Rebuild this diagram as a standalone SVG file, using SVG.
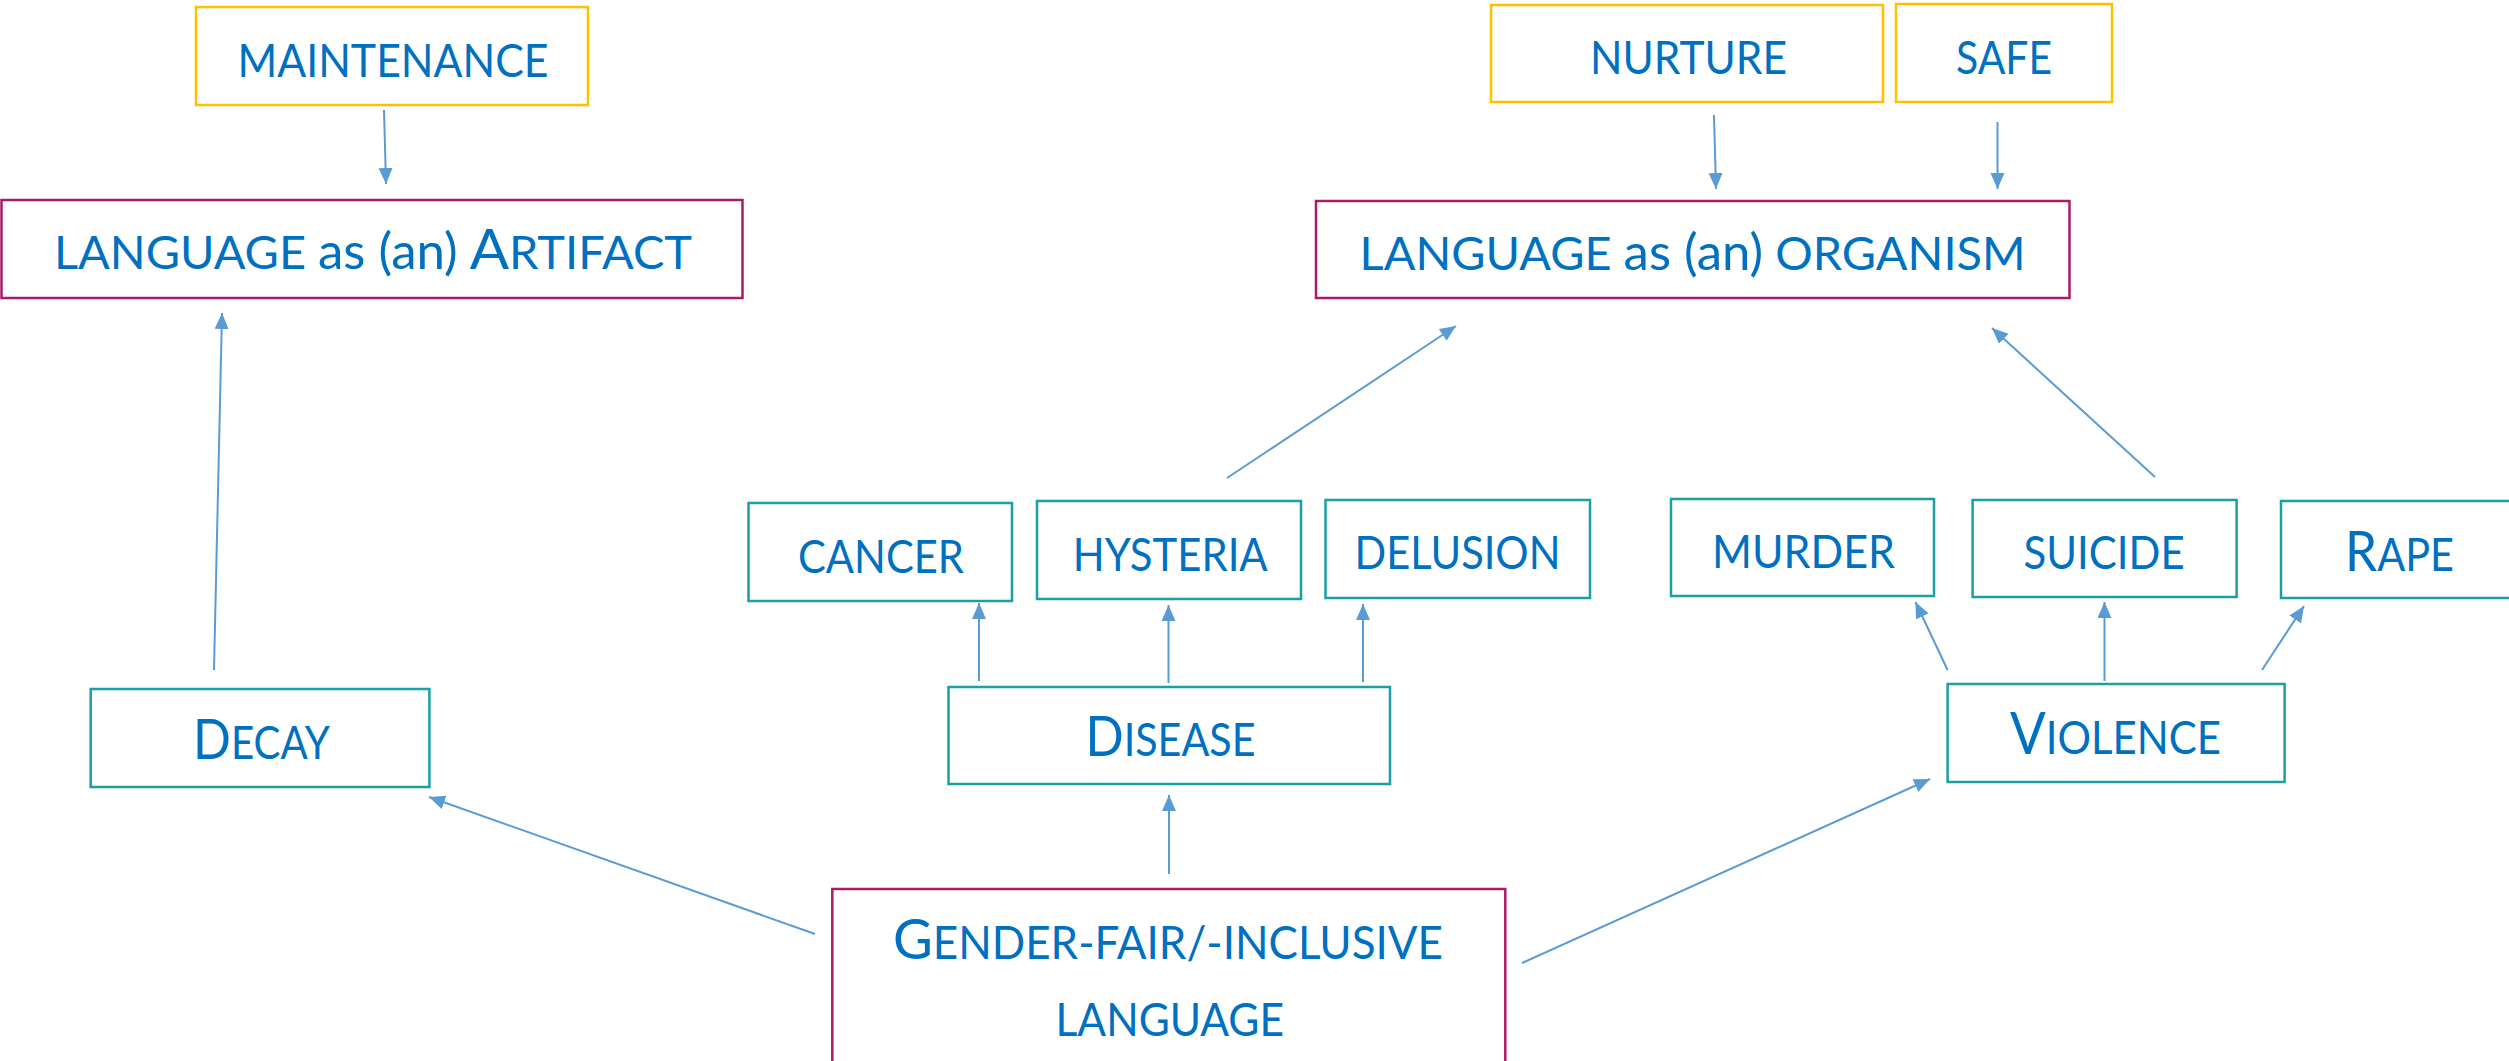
<svg xmlns="http://www.w3.org/2000/svg" width="2509" height="1061" viewBox="0 0 2509 1061">
<style>
.gold{fill:#fff;stroke:#FFC000;stroke-width:2.5}
.mag{fill:#fff;stroke:#A91C68;stroke-width:2.5}
.teal{fill:#fff;stroke:#19A0A3;stroke-width:2.5}
text{font-family:Lato,"Open Sans","Liberation Sans",sans-serif;fill:#0070C0;font-size:46px}
.big{font-size:57px}
.lc{font-size:50px}
.conn line{stroke:#5B9BD5;stroke-width:2;marker-end:url(#ah)}
</style>
<defs>
<marker id="ah" markerUnits="userSpaceOnUse" markerWidth="17" markerHeight="15" refX="16" refY="7" orient="auto">
<path d="M0,0 L16,7 L0,14 z" fill="#5B9BD5"/>
</marker>
</defs>
<rect width="2509" height="1061" fill="#fff"/>
<g id="connectors" class="conn">
<line x1="384" y1="110" x2="386" y2="184"/>
<line x1="1714" y1="115" x2="1716" y2="189"/>
<line x1="1997.5" y1="122" x2="1997.5" y2="189"/>
<line x1="214" y1="670" x2="222" y2="313"/>
<line x1="1227" y1="478" x2="1456" y2="326"/>
<line x1="2155" y1="477" x2="1992" y2="328"/>
<line x1="979" y1="681" x2="979" y2="603"/>
<line x1="1168.5" y1="683" x2="1168.5" y2="605"/>
<line x1="1363" y1="682" x2="1363" y2="604"/>
<line x1="1947.6" y1="670" x2="1915.5" y2="602"/>
<line x1="2104.5" y1="681" x2="2104.5" y2="602"/>
<line x1="2262" y1="670" x2="2304" y2="606"/>
<line x1="815" y1="934" x2="429" y2="797"/>
<line x1="1169" y1="874" x2="1169" y2="795"/>
<line x1="1522" y1="963" x2="1930" y2="779"/>
</g>
<g id="maintenance"><rect class="gold" x="196" y="7" width="392" height="98"/><text x="237.5" y="77" textLength="311" lengthAdjust="spacingAndGlyphs">MAINTENANCE</text></g>
<g id="nurture"><rect class="gold" x="1491" y="5" width="392" height="97"/><text x="1590" y="74" font-size="45" textLength="197" lengthAdjust="spacingAndGlyphs">NURTURE</text></g>
<g id="safe"><rect class="gold" x="1896" y="4" width="216" height="98"/><text x="1956" y="74" font-size="45" textLength="96" lengthAdjust="spacingAndGlyphs">SAFE</text></g>
<g id="artifact"><rect class="mag" x="1.5" y="200" width="741" height="98"/><text x="54" y="269" textLength="638" lengthAdjust="spacingAndGlyphs">LANGUAGE <tspan class="lc">as (an)</tspan> <tspan class="big">A</tspan>RTIFACT</text></g>
<g id="organism"><rect class="mag" x="1316" y="201" width="753.5" height="97"/><text x="1359.6" y="270" textLength="666" lengthAdjust="spacingAndGlyphs">LANGUAGE <tspan class="lc">as (an)</tspan> ORGANISM</text></g>
<g id="cancer"><rect class="teal" x="748.5" y="503" width="263.5" height="98"/><text x="798" y="572.7" textLength="166" lengthAdjust="spacingAndGlyphs">CANCER</text></g>
<g id="hysteria"><rect class="teal" x="1037" y="501" width="264" height="98"/><text x="1072.7" y="570.7" textLength="195" lengthAdjust="spacingAndGlyphs">HYSTERIA</text></g>
<g id="delusion"><rect class="teal" x="1325.5" y="500" width="264.5" height="98"/><text x="1354.5" y="569.3" textLength="206" lengthAdjust="spacingAndGlyphs">DELUSION</text></g>
<g id="murder"><rect class="teal" x="1671" y="499" width="263" height="97"/><text x="1712" y="568.3" textLength="183" lengthAdjust="spacingAndGlyphs">MURDER</text></g>
<g id="suicide"><rect class="teal" x="1972.6" y="500" width="264" height="97"/><text x="2023.6" y="569.3" textLength="161" lengthAdjust="spacingAndGlyphs">SUICIDE</text></g>
<g id="rape"><rect class="teal" x="2281" y="501" width="260" height="97"/><text x="2345" y="570.7" textLength="109" lengthAdjust="spacingAndGlyphs"><tspan class="big">R</tspan>APE</text></g>
<g id="disease"><rect class="teal" x="948.5" y="687" width="441.5" height="97"/><text x="1085.5" y="756" textLength="170" lengthAdjust="spacingAndGlyphs"><tspan font-size="56">D</tspan>ISEASE</text></g>
<g id="violence"><rect class="teal" x="1947.6" y="684" width="337" height="98"/><text x="2010" y="754.3" textLength="211" lengthAdjust="spacingAndGlyphs"><tspan font-size="58">V</tspan>IOLENCE</text></g>
<g id="decay"><rect class="teal" x="90.7" y="689" width="338.7" height="98"/><text x="193" y="759" textLength="137" lengthAdjust="spacingAndGlyphs"><tspan class="big">D</tspan>ECAY</text></g>
<g id="gender"><rect class="mag" x="832.3" y="889" width="673" height="190"/><text x="893" y="959" font-size="45" textLength="550" lengthAdjust="spacingAndGlyphs"><tspan class="big">G</tspan>ENDER-FAIR/-INCLUSIVE</text><text x="1055.5" y="1036" textLength="228.5" lengthAdjust="spacingAndGlyphs">LANGUAGE</text></g>
</svg>
